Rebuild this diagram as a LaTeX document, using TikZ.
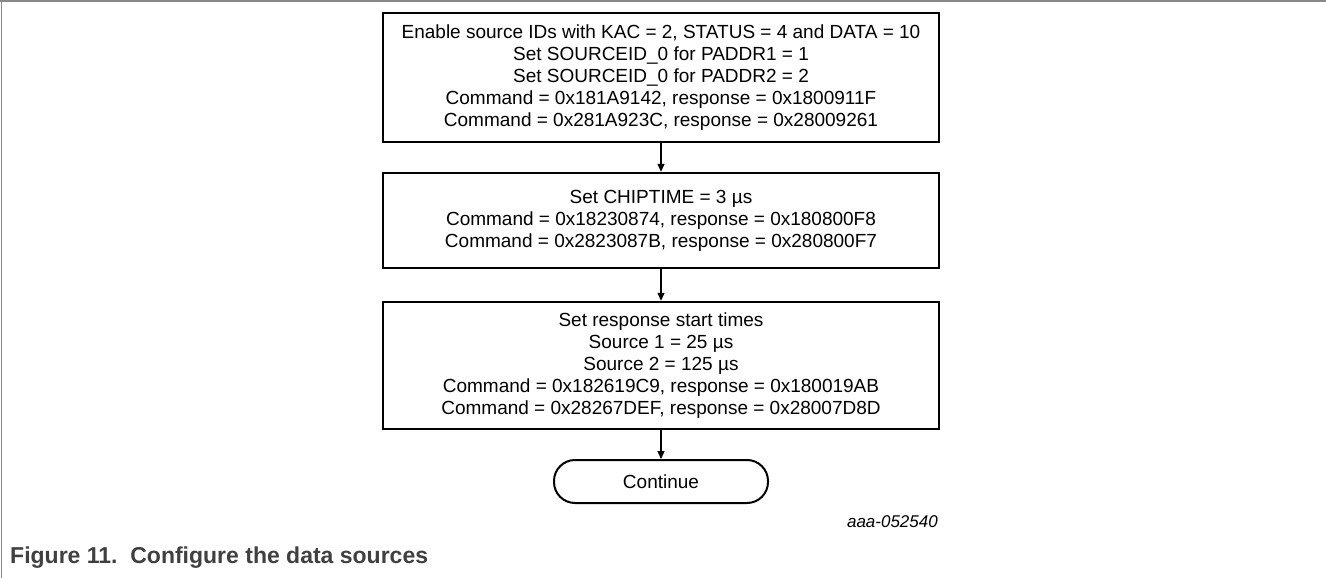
\documentclass[tikz,border=0pt]{standalone}
\usepackage{fontspec}
\setmainfont{Liberation Sans}
\usetikzlibrary{arrows.meta}
\definecolor{framegray}{RGB}{136,136,136}
\definecolor{captiongray}{RGB}{64,64,64}
\begin{document}
\begin{tikzpicture}[x=1pt,y=-1pt,
  stepbox/.style={draw=black, line width=2.4pt, rectangle, minimum width=556pt,
    inner sep=0pt, align=center, font=\fontsize{19}{22}\selectfont},
  termbox/.style={draw=black, line width=2pt, rounded corners=21pt,
    minimum width=214pt, minimum height=43pt, inner sep=0pt,
    font=\fontsize{19}{22}\selectfont},
  flow/.style={draw=black, line width=1.3pt, -{Triangle[length=8pt,width=7pt]}}]
\useasboundingbox (0,0) rectangle (1326,578);
% frame of the figure area
\draw[framegray, line width=1.6pt] (0,1) -- (1326,1);
\draw[framegray, line width=1.6pt] (1.5,0) -- (1.5,578);
% flow steps
\node[stepbox, minimum height=129pt] (s1) at (661,77.5)
  {Enable source IDs with KAC = 2, STATUS = 4 and DATA = 10\\
   Set SOURCEID\_0 for PADDR1 = 1\\
   Set SOURCEID\_0 for PADDR2 = 2\\
   Command = 0x181A9142, response = 0x1800911F\\
   Command = 0x281A923C, response = 0x28009261};
\node[stepbox, minimum height=95pt] (s2) at (661,220.5)
  {Set CHIPTIME = 3 µs\\
   Command = 0x18230874, response = 0x180800F8\\
   Command = 0x2823087B, response = 0x280800F7};
\node[stepbox, minimum height=127pt] (s3) at (661,365.5)
  {Set response start times\\
   Source 1 = 25 µs\\
   Source 2 = 125 µs\\
   Command = 0x182619C9, response = 0x180019AB\\
   Command = 0x28267DEF, response = 0x28007D8D};
\node[termbox] (end) at (661,481.5) {Continue};
% connectors
\draw[flow] (s1.south) -- (s2.north);
\draw[flow] (s2.south) -- (s3.north);
\draw[flow] (s3.south) -- (end.north);
% labels
\node[anchor=east, inner sep=0pt, font=\fontsize{17}{19}\selectfont\itshape] (tag) at (938,522) {aaa-052540};
\node[anchor=base west, inner sep=0pt, text=captiongray, font=\fontsize{23}{25}\selectfont\bfseries] (cap) at (10,563) {Figure 11.\ \ Configure the data sources};
\end{tikzpicture}
\end{document}
